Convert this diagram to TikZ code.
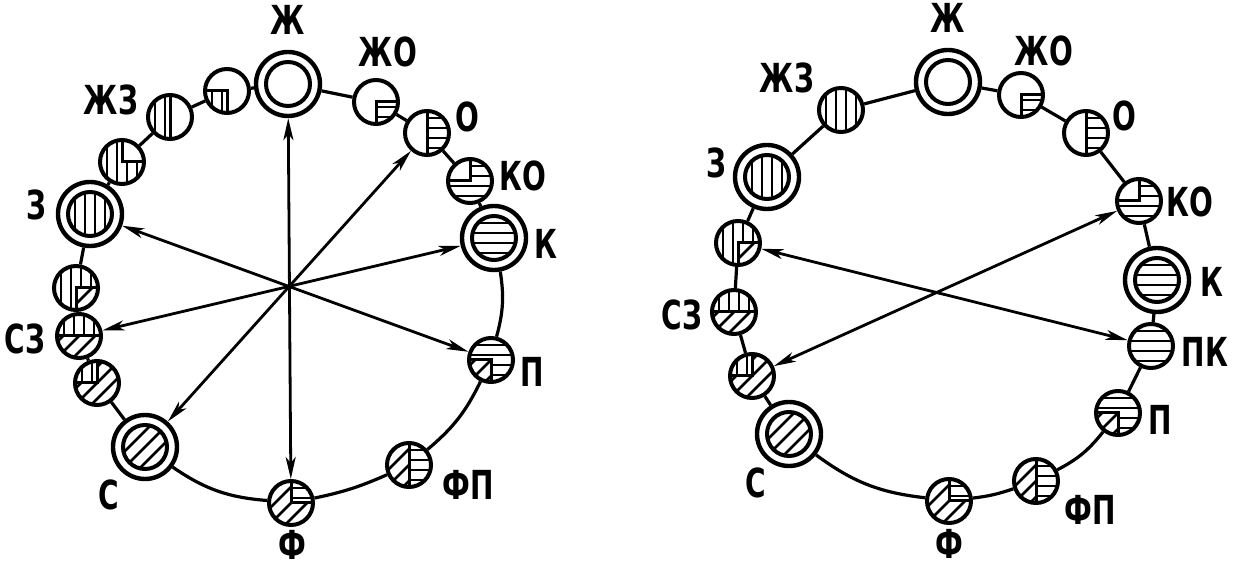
\documentclass[tikz,border=0pt]{standalone}
\usepackage{fontspec}
\newfontfamily\lblfont[FakeStretch=0.7]{DejaVu Sans}
\usetikzlibrary{arrows.meta}

% hatching of one rectangle of a swatch
\newcommand\vhatch[4]{\begin{scope}\clip (#1,#2) rectangle (#3,#4);
  \foreach \t in {-25,-15,...,25} \draw[hatch] (\t,-40) -- (\t,40);\end{scope}}
\newcommand\hhatch[4]{\begin{scope}\clip (#1,#2) rectangle (#3,#4);
  \foreach \t in {-25,-15,...,25} \draw[hatch] (-40,\t) -- (40,\t);\end{scope}}
\newcommand\dhatch[4]{\begin{scope}\clip (#1,#2) rectangle (#3,#4);
  \foreach \t in {-80,-64,...,80} \draw[hatch] (\t-40,40) -- (\t+40,-40);\end{scope}}

\tikzset{
  hatch/.style={line width=1.3pt},
  divide/.style={line width=1.5pt},
  swatch/.style={circle, draw, line width=2pt, minimum size=22pt, inner sep=0pt,
    path picture={\begin{scope}[shift={(path picture bounding box.center)}]#1\end{scope}}},
  swatch/.default={},
  bigswatch/.style={circle, draw, line width=2.2pt, minimum size=32pt, inner sep=0pt,
    path picture={\begin{scope}[shift={(path picture bounding box.center)}]
      \draw[line width=2pt] (0,0) circle (22); \clip (0,0) circle (22); #1\end{scope}}},
  bigswatch/.default={},
  lbl/.style={font=\lblfont\bfseries\fontsize{20}{20}\selectfont, inner sep=0pt},
  link/.style={line width=1.6pt},
  arr/.style={line width=1.4pt, {Stealth[length=11pt,width=5pt,inset=3pt]}-{Stealth[length=11pt,width=5pt,inset=3pt]}},
  % the colours of the wheel
  col zh/.style={bigswatch},
  col zho/.style={swatch={\hhatch{0}{0}{30}{30}\draw[divide] (0,30) -- (0,0) -- (30,0);}},
  col o/.style={swatch={\hhatch{0}{-30}{30}{30}\draw[divide] (0,-30) -- (0,30);}},
  col ko/.style={swatch={\hhatch{0}{-30}{30}{0}\hhatch{-30}{0}{30}{30}\draw[divide] (-30,0) -- (0,0) -- (0,-30);}},
  col k/.style={bigswatch={\hhatch{-30}{-30}{30}{30}}},
  col pk/.style={swatch={\hhatch{-30}{-30}{30}{30}}},
  col p/.style={swatch={\hhatch{-30}{-30}{30}{0}\hhatch{0}{0}{30}{30}\dhatch{-30}{0}{0}{30}\draw[divide] (-30,0) -- (0,0) -- (0,30);}},
  col fp/.style={swatch={\dhatch{-30}{-30}{0}{30}\hhatch{0}{-30}{30}{30}\draw[divide] (0,-30) -- (0,30);}},
  col f/.style={swatch={\dhatch{-30}{-30}{0}{30}\dhatch{0}{0}{30}{30}\hhatch{0}{-30}{30}{0}\draw[divide] (0,-30) -- (0,0) -- (30,0);}},
  col s/.style={bigswatch={\dhatch{-30}{-30}{30}{30}}},
  col ss/.style={swatch={\vhatch{-30}{-30}{0}{0}\dhatch{0}{-30}{30}{30}\dhatch{-30}{0}{0}{30}\draw[divide] (-30,0) -- (0,0) -- (0,-30);}},
  col sz/.style={swatch={\vhatch{-30}{-30}{30}{0}\dhatch{-30}{0}{30}{30}\draw[divide] (-30,0) -- (30,0);}},
  col zs/.style={swatch={\vhatch{-30}{-30}{30}{0}\vhatch{-30}{0}{0}{30}\dhatch{0}{0}{30}{30}\draw[divide] (0,30) -- (0,0) -- (30,0);}},
  col z/.style={bigswatch={\vhatch{-30}{-30}{30}{30}}},
  col zz/.style={swatch={\vhatch{-30}{-30}{0}{30}\vhatch{0}{0}{30}{30}\draw[divide] (0,-30) -- (0,0) -- (30,0);}},
  col zhz/.style={swatch={\vhatch{-30}{-30}{30}{30}}},
  col zhzh/.style={swatch={\vhatch{-30}{-30}{0}{30}\draw[divide] (0,-30) -- (0,30);}},
  col zhh/.style={swatch={\vhatch{-30}{0}{0}{30}\draw[divide] (-30,0) -- (0,0) -- (0,30);}},
}

\begin{document}
\begin{tikzpicture}[x=0.5pt,y=-0.5pt]
\useasboundingbox (0,0) rectangle (1233,571);

% left wheel
\node[col zh] (zhL) at (288,84) {};
\node[col zho] (zhoL) at (376,102) {};
\node[col o] (oL) at (427,133) {};
\node[col ko] (koL) at (470,181) {};
\node[col k] (kL) at (494,238) {};
\node[col p] (pL) at (491,360) {};
\node[col fp] (fpL) at (409,465) {};
\node[col f] (fL) at (291,503) {};
\node[col s] (sL) at (145,447) {};
\node[col ss] (ssL) at (97,383) {};
\node[col sz] (szL) at (79,336) {};
\node[col zs] (zsL) at (76,288) {};
\node[col z] (zL) at (90,214) {};
\node[col zz] (zzL) at (122,162) {};
\node[col zhzh] (zhzL) at (170,117) {};
\node[col zhh] (zhhL) at (227,91) {};

\node[lbl] (zhLt) at (288,20) {Ж};
\node[lbl] (zhoLt) at (388,52) {ЖО};
\node[lbl] (oLt) at (467,117) {О};
\node[lbl] (koLt) at (523,176) {КО};
\node[lbl] (kLt) at (546,244) {К};
\node[lbl] (pLt) at (532,372) {П};
\node[lbl] (fpLt) at (468,485) {ФП};
\node[lbl] (fLt) at (292,545) {Ф};
\node[lbl] (sLt) at (109,495) {С};
\node[lbl] (szLt) at (25,339) {СЗ};
\node[lbl] (zLt) at (36,205) {З};
\node[lbl] (zhzLt) at (111,100) {ЖЗ};

\draw[link] (zhL) -- (zhoL) -- (oL) -- (koL) -- (kL);
\draw[link] (kL) to[bend left=12] (pL);
\draw[link] (pL) to[bend left=12] (fpL);
\draw[link] (fpL) to[bend left=6] (fL);
\draw[link] (fL) to[bend left=15] (sL);
\draw[link] (sL) -- (ssL) -- (szL) -- (zsL) -- (zL) -- (zzL) -- (zhzL) -- (zhhL) -- (zhL);

\draw[arr] (zhL) -- (fL);
\draw[arr] (zL) -- (pL);
\draw[arr] (oL) -- (sL);
\draw[arr] (kL) -- (szL);

% right wheel
\node[col zh] (zhR) at (948,82) {};
\node[col zho] (zhoR) at (1021,95) {};
\node[col o] (oR) at (1086,133) {};
\node[col ko] (koR) at (1139,201) {};
\node[col k] (kR) at (1157,280) {};
\node[col pk] (pkR) at (1151,346) {};
\node[col p] (pR) at (1118,413) {};
\node[col fp] (fpR) at (1036,481) {};
\node[col f] (fR) at (949,501) {};
\node[col s] (sR) at (789,434) {};
\node[col ss] (ssR) at (752,376) {};
\node[col sz] (szR) at (734,312) {};
\node[col zs] (zsR) at (738,243) {};
\node[col z] (zR) at (767,177) {};
\node[col zhz] (zhzR) at (841,110) {};

\node[lbl] (zhRt) at (948,18) {Ж};
\node[lbl] (zhoRt) at (1044,51) {ЖО};
\node[lbl] (oRt) at (1124,116) {О};
\node[lbl] (koRt) at (1190,202) {КО};
\node[lbl] (kRt) at (1212,282) {К};
\node[lbl] (pkRt) at (1205,352) {ПК};
\node[lbl] (pRt) at (1160,420) {П};
\node[lbl] (fpRt) at (1090,510) {ФП};
\node[lbl] (fRt) at (949,544) {Ф};
\node[lbl] (sRt) at (756,483) {С};
\node[lbl] (szRt) at (682,315) {СЗ};
\node[lbl] (zRt) at (716,163) {З};
\node[lbl] (zhzRt) at (787,78) {ЖЗ};

\draw[link] (zhR) -- (zhoR) -- (oR) -- (koR) -- (kR) -- (pkR) -- (pR);
\draw[link] (pR) to[bend left=12] (fpR);
\draw[link] (fpR) to[bend left=6] (fR);
\draw[link] (fR) to[bend left=15] (sR);
\draw[link] (sR) -- (ssR) -- (szR) -- (zsR) -- (zR) -- (zhzR) -- (zhR);

\draw[arr] (zsR) -- (pkR);
\draw[arr] (koR) -- (ssR);
\end{tikzpicture}
\end{document}
